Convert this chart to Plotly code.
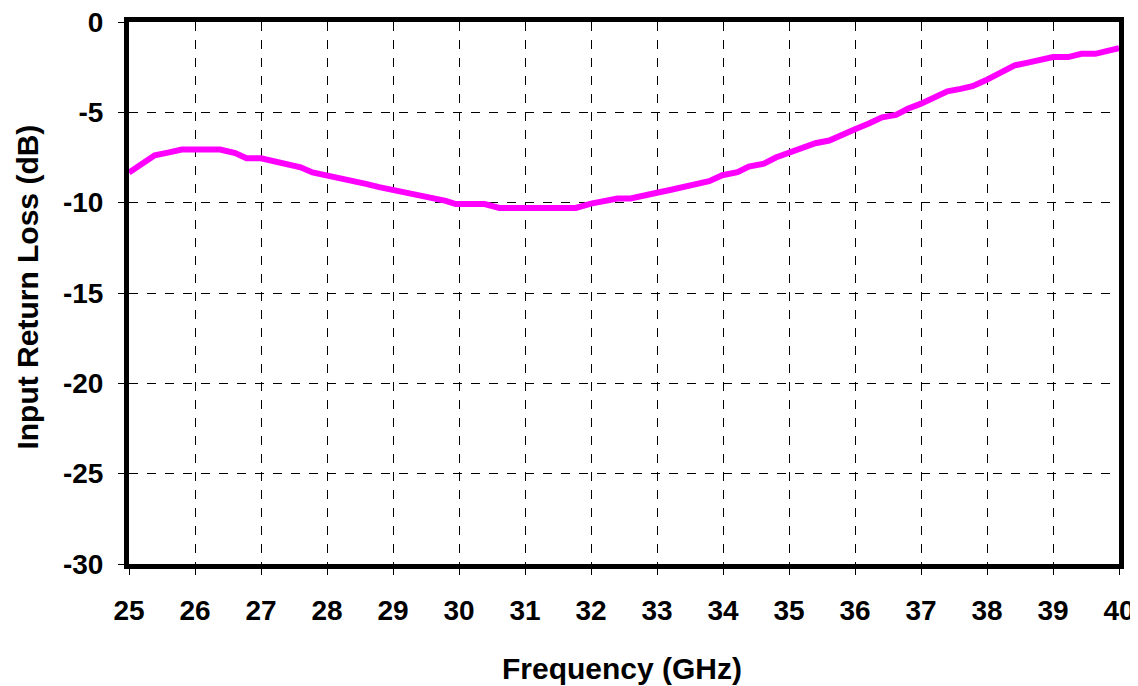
import plotly.graph_objects as go

freq_ghz = [25.0, 25.19, 25.39, 25.59, 25.8, 26.0, 26.2, 26.38, 26.61, 26.78, 27.0, 27.2, 27.38,
            27.6, 27.78, 28.0, 28.18, 28.38, 28.59, 28.79, 29.0, 29.19, 29.39, 29.6, 29.8, 29.95,
            30.2, 30.39, 30.61, 30.8, 31.0, 31.2, 31.4, 31.6, 31.77, 32.0, 32.2, 32.4, 32.6,
            32.78, 33.0, 33.18, 33.38, 33.59, 33.79, 33.99, 34.22, 34.39, 34.62, 34.8, 35.03,
            35.2, 35.4, 35.61, 35.81, 36.0, 36.21, 36.41, 36.62, 36.8, 37.0, 37.17, 37.4, 37.6,
            37.78, 37.98, 38.21, 38.42, 38.62, 38.82, 39.0, 39.23, 39.43, 39.64, 39.84, 40.0]
return_loss_db = [-8.33, -7.89, -7.38, -7.23, -7.06, -7.06, -7.06, -7.06, -7.25, -7.54, -7.54,
                  -7.7, -7.86, -8.04, -8.33, -8.48, -8.63, -8.81, -8.96, -9.14, -9.29, -9.44,
                  -9.6, -9.73, -9.9, -10.08, -10.08, -10.08, -10.29, -10.29, -10.29, -10.29,
                  -10.29, -10.29, -10.29, -10.05, -9.91, -9.77, -9.77, -9.6, -9.45, -9.31,
                  -9.14, -9.0, -8.81, -8.48, -8.31, -8.0, -7.84, -7.5, -7.19, -7.04, -6.71,
                  -6.56, -6.2, -5.93, -5.62, -5.28, -5.14, -4.8, -4.52, -4.24, -3.84, -3.7,
                  -3.55, -3.23, -2.77, -2.4, -2.25, -2.09, -1.94, -1.94, -1.76, -1.76, -1.57,
                  -1.45]

x_ticks = list(range(25, 41))
y_ticks = [0, -5, -10, -15, -20, -25, -30]
x_title = "Frequency (GHz)"
y_title = "Input Return Loss (dB)"

FONT = "Liberation Sans, Arial, sans-serif"

fig = go.Figure()
fig.add_trace(go.Scatter(
    x=freq_ghz, y=return_loss_db, mode="lines",
    line=dict(color="#FF00FF", width=6),
    showlegend=False, cliponaxis=True,
))

# page body has an 8px default margin, so the figure is sized to fit the window
fig.update_layout(
    width=1130, height=678,
    margin=dict(l=121, r=19, t=14, b=122),
    paper_bgcolor="white", plot_bgcolor="white",
    font=dict(family=FONT, color="black", size=28),
)
common = dict(
    showline=True, linecolor="black", linewidth=5, mirror=True,
    showgrid=True, gridcolor="black", gridwidth=1, griddash="dash",
    ticks="outside", ticklen=6, tickcolor="black", tickwidth=1,
    tickfont=dict(family=FONT, size=28, color="black", weight="bold"),
    zeroline=False, automargin=False, ticklabeloverflow="allow",
)
fig.update_xaxes(range=[25, 40], tickvals=x_ticks, ticktext=[str(v) for v in x_ticks],
                 ticklabelstandoff=11, **common)
fig.update_yaxes(range=[-30, 0], tickvals=y_ticks, ticktext=[str(v) for v in y_ticks],
                 ticklabelstandoff=9, **common)

fig.add_annotation(text="<b>" + x_title + "</b>", xref="paper", yref="paper",
                   x=0.498, y=-0.192, xanchor="center", yanchor="middle", showarrow=False,
                   font=dict(family=FONT, size=30, color="black"))
fig.add_annotation(text="<b>" + y_title + "</b>", xref="paper", yref="paper",
                   x=-0.102, y=0.51, xanchor="center", yanchor="middle", showarrow=False,
                   textangle=-90, font=dict(family=FONT, size=30, color="black"))

fig.write_html("out.html")
